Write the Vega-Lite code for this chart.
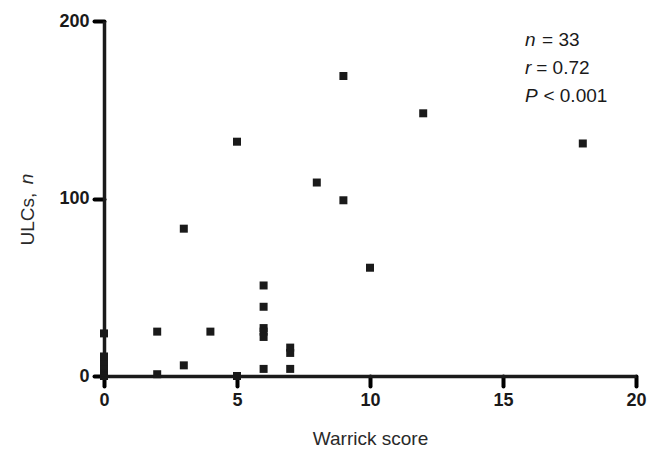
{
  "$schema": "https://vega.github.io/schema/vega-lite/v6.json",
  "width": 532,
  "height": 355,
  "autosize": {"type": "none"},
  "padding": {"left": 104, "top": 21, "right": 11, "bottom": 77},
  "background": "white",
  "config": {
    "view": {"stroke": null},
    "font": "Liberation Sans",
    "axis": {
      "grid": false,
      "labelFlush": false,
      "domainColor": "#1a1a1a",
      "domainWidth": 3.5,
      "labelFont": "Liberation Sans",
      "labelFontSize": 18,
      "labelFontWeight": "bold",
      "labelColor": "#1a1a1a",
      "titleFont": "Liberation Sans",
      "titleFontSize": 19,
      "titleFontWeight": "normal",
      "titleColor": "#2a2a2a"
    }
  },
  "datasets": {
    "pts": [
      {"warrick": 0, "ulc": 0}, {"warrick": 0, "ulc": 1}, {"warrick": 0, "ulc": 2},
      {"warrick": 0, "ulc": 3}, {"warrick": 0, "ulc": 4}, {"warrick": 0, "ulc": 5},
      {"warrick": 0, "ulc": 6}, {"warrick": 0, "ulc": 8}, {"warrick": 0, "ulc": 9},
      {"warrick": 0, "ulc": 11}, {"warrick": 0, "ulc": 24},
      {"warrick": 2, "ulc": 25}, {"warrick": 2, "ulc": 1},
      {"warrick": 3, "ulc": 83}, {"warrick": 3, "ulc": 6},
      {"warrick": 4, "ulc": 25},
      {"warrick": 5, "ulc": 132}, {"warrick": 5, "ulc": 0},
      {"warrick": 6, "ulc": 51}, {"warrick": 6, "ulc": 39}, {"warrick": 6, "ulc": 27},
      {"warrick": 6, "ulc": 25}, {"warrick": 6, "ulc": 22}, {"warrick": 6, "ulc": 4},
      {"warrick": 7, "ulc": 16}, {"warrick": 7, "ulc": 13}, {"warrick": 7, "ulc": 4},
      {"warrick": 8, "ulc": 109},
      {"warrick": 9, "ulc": 169}, {"warrick": 9, "ulc": 99},
      {"warrick": 10, "ulc": 61},
      {"warrick": 12, "ulc": 148},
      {"warrick": 18, "ulc": 131}
    ],
    "annot": [
      {"letter": "n", "rest": "= 33", "lx": 15.83, "rx": 16.47, "y": 185.9},
      {"letter": "r", "rest": "= 0.72", "lx": 15.83, "rx": 16.25, "y": 170.1},
      {"letter": "P", "rest": "< 0.001", "lx": 15.83, "rx": 16.52, "y": 154.4}
    ],
    "ytitle": [
      {"t": "n", "x": -2.67, "y": 108}
    ]
  },
  "layer": [
    {
      "data": {"name": "pts"},
      "mark": {"type": "square", "size": 64, "color": "#1a1a1a", "opacity": 1, "clip": false},
      "encoding": {
        "x": {
          "field": "warrick", "type": "quantitative",
          "scale": {"domain": [0, 20], "nice": false, "zero": false},
          "axis": {
            "values": [0, 5, 10, 15, 20],
            "title": "Warrick score",
            "ticks": true,
            "tickSize": 10,
            "tickWidth": 4,
            "tickColor": "#000000",
            "tickCap": "round",
            "labelPadding": 5,
            "titlePadding": 20
          }
        },
        "y": {
          "field": "ulc", "type": "quantitative",
          "scale": {"domain": [0, 200], "nice": false, "zero": false},
          "axis": {
            "values": [0, 100, 200],
            "title": "ULCs,",
            "ticks": true,
            "tickSize": 10,
            "tickWidth": 4,
            "tickColor": "#000000",
            "tickCap": "round",
            "labelPadding": 5,
            "titleAngle": 270,
            "titleAlign": "left",
            "titleBaseline": "alphabetic",
            "titleX": -71,
            "titleY": 224
          }
        }
      }
    },
    {
      "data": {"name": "ytitle"},
      "mark": {"type": "text", "angle": 270, "align": "left", "baseline": "alphabetic", "fontSize": 19, "fontStyle": "italic", "color": "#2a2a2a", "font": "Liberation Sans", "clip": false},
      "encoding": {
        "x": {"field": "x", "type": "quantitative"},
        "y": {"field": "y", "type": "quantitative"},
        "text": {"field": "t"}
      }
    },
    {
      "data": {"name": "annot"},
      "mark": {"type": "text", "align": "left", "baseline": "alphabetic", "fontSize": 19, "fontStyle": "italic", "color": "#1a1a1a", "font": "Liberation Sans"},
      "encoding": {
        "x": {"field": "lx", "type": "quantitative"},
        "y": {"field": "y", "type": "quantitative"},
        "text": {"field": "letter"}
      }
    },
    {
      "data": {"name": "annot"},
      "mark": {"type": "text", "align": "left", "baseline": "alphabetic", "fontSize": 19, "color": "#1a1a1a", "font": "Liberation Sans"},
      "encoding": {
        "x": {"field": "rx", "type": "quantitative"},
        "y": {"field": "y", "type": "quantitative"},
        "text": {"field": "rest"}
      }
    }
  ]
}
